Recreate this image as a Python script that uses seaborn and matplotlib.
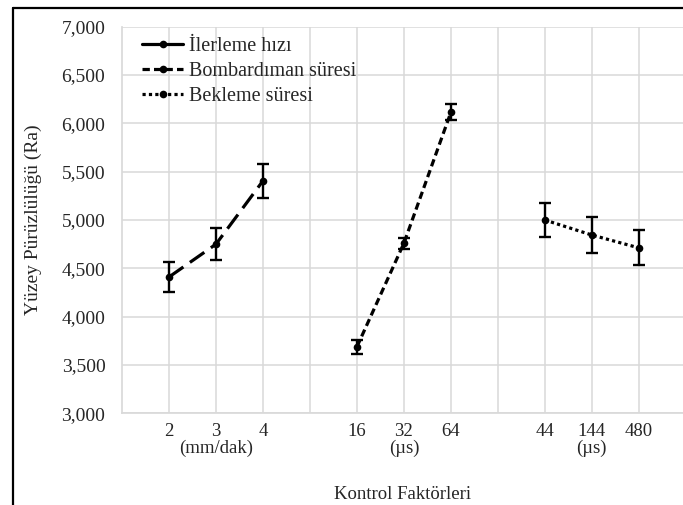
import numpy as np
import pandas as pd
import seaborn as sns
import matplotlib.pyplot as plt
from matplotlib.lines import Line2D

# data
ilerleme_x = [1, 2, 3]
ilerleme_y = [4410, 4750, 5405]
ilerleme_err = [155, 165, 172]

bombardiman_x = [5, 6, 7]
bombardiman_y = [3688, 4760, 6115]
bombardiman_err = [70, 55, 85]

bekleme_x = [9, 10, 11]
bekleme_y = [5000, 4845, 4712]
bekleme_err = [180, 183, 181]

tick_pos = list(range(1, 12))
tick_labels = ['2', '3\n(mm/dak)', '4', '',
               '16', '32\n(\u00b5s)', '64', '',
               '44', '144\n(\u00b5s)', '480']

sns.set_theme(style="white")
plt.rcParams['font.family'] = ['Liberation Serif', 'DejaVu Serif']

fig = plt.figure(figsize=(6.83, 5.05), dpi=100)
ax = fig.add_axes([0.1786, 0.1816, 0.8214, 0.7654])

series = [
    ("\u0130lerleme h\u0131z\u0131", ilerleme_x, ilerleme_y, ilerleme_err, (5.5, 2.5)),
    ("Bombard\u0131man s\u00fcresi", bombardiman_x, bombardiman_y, bombardiman_err, (2.3, 1.3)),
    ("Bekleme s\u00fcresi", bekleme_x, bekleme_y, bekleme_err, (1, 1)),
]

handles = []
for i, (name, xs, ys, errs, dash) in enumerate(series):
    df = pd.DataFrame({'x': xs, 'y': ys})
    sns.lineplot(data=df, x='x', y='y', ax=ax, color='black', lw=2.3,
                 dashes=dash, marker='o', markersize=5.5, markeredgewidth=0)
    ax.errorbar(xs, ys, yerr=errs, fmt='none', ecolor='black',
                elinewidth=1.7, capsize=4, capthick=1.7)
    h = Line2D([], [], color='black', lw=2.3, marker='o', markersize=5.5,
               markeredgewidth=0)
    if i > 0:
        h.set_dashes(dash)  # long dash looks solid in the short legend sample
    handles.append((name, h))

ax.set_xlim(0, 11.94)
ax.set_ylim(3000, 7000)
ax.set_yticks(np.arange(3000, 7001, 500))
ax.set_yticklabels([f"{v:,}" for v in range(3000, 7001, 500)], fontsize=14)
ax.set_xticks(tick_pos)
ax.set_xticklabels(tick_labels, fontsize=13.5, linespacing=1.0)
ax.tick_params(axis='y', length=5, color='#d9d9d9', width=1, pad=7)
ax.tick_params(axis='x', length=0, pad=7)

ax.grid(True, color='#d9d9d9', lw=1.1)
ax.set_axisbelow(True)
for side in ['top', 'right']:
    ax.spines[side].set_visible(False)
ax.spines['left'].set_color('#d9d9d9')
ax.spines['bottom'].set_color('#d9d9d9')

ax.set_xlabel("Kontrol Fakt\u00f6rleri", fontsize=13.5, labelpad=21)
ax.set_ylabel("Y\u00fczey P\u00fcr\u00fczl\u00fcl\u00fc\u011f\u00fc (Ra)", fontsize=14, labelpad=14)

ax.legend([h for _, h in handles], [n for n, _ in handles],
          loc='upper left', bbox_to_anchor=(20 / 561, 1 - 10 / 387),
          frameon=False, fontsize=14.5, handlelength=2.05,
          handletextpad=0.3, labelspacing=0.3, borderaxespad=0,
          borderpad=0)

# outer frame of the original picture (left and top edges)
fig.add_artist(Line2D([12.5 / 683, 12.5 / 683], [0, 1 - 7.5 / 505],
                      transform=fig.transFigure, color='black', lw=1.6))
fig.add_artist(Line2D([12.5 / 683, 1], [1 - 7.5 / 505, 1 - 7.5 / 505],
                      transform=fig.transFigure, color='black', lw=1.6))

fig.savefig('out.png', dpi=100)
